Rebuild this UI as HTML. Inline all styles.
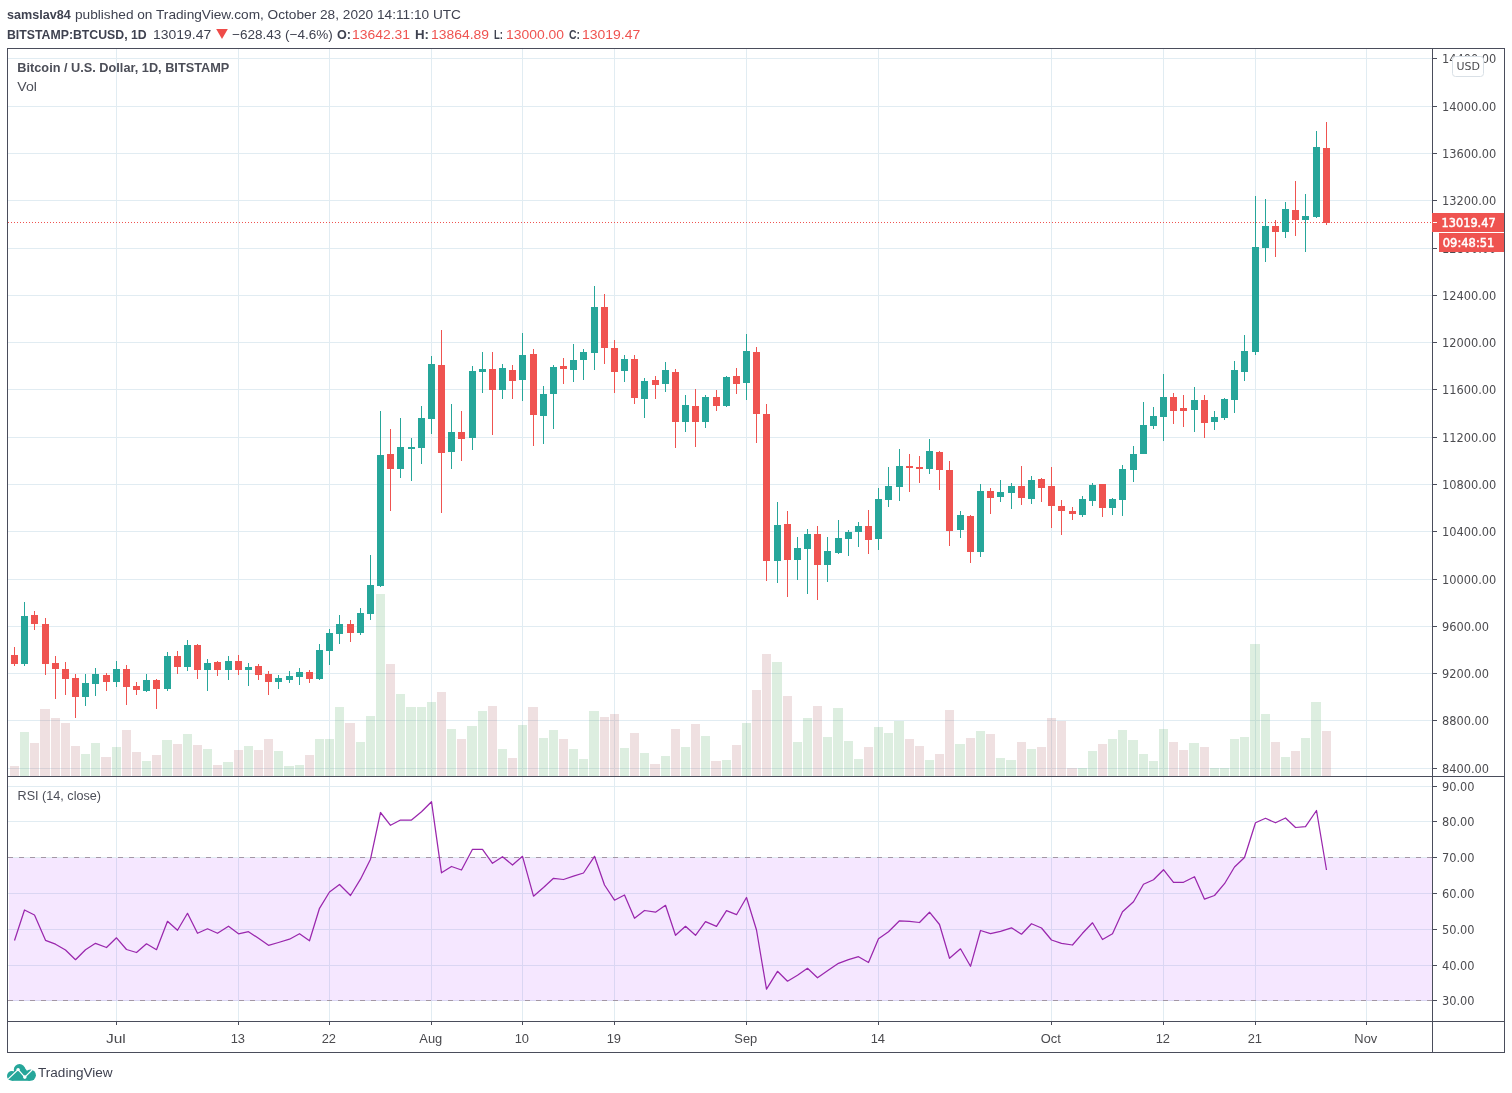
<!DOCTYPE html>
<html lang="en"><head><meta charset="utf-8"><title>BTCUSD chart</title>
<style>
html,body{margin:0;padding:0;background:#fff;}
body{width:1512px;height:1093px;position:relative;overflow:hidden;font-family:"Liberation Sans",sans-serif;}
#hdr{position:absolute;left:0;top:0;color:#3f4250;font-size:13px;line-height:16px;}
#hdr span{position:absolute;transform-origin:0 0;white-space:nowrap}
.b{font-weight:bold}
.r{color:#ef5350}
svg{position:absolute;left:0;top:0}
svg text{font-family:"DejaVu Sans","Liberation Sans",sans-serif;font-size:11.4px;fill:#4c4c50}
svg text.c{font-family:"Liberation Sans",sans-serif}
#foot{position:absolute;left:38.4px;top:1064.6px;font-size:12.5px;color:#3f4250;line-height:16px;transform-origin:0 0;transform:scaleX(1.085);white-space:nowrap}
</style></head><body>
<div id="hdr">
<span class="b" style="left:6.7px;top:7.3px;transform:scaleX(0.9684)">samslav84</span>
<span style="left:75.2px;top:7.3px;transform:scaleX(1.0507)">published on TradingView.com, October 28, 2020 14:11:10 UTC</span>
<span class="b" style="left:6.7px;top:26.5px;transform:scaleX(0.9451)">BITSTAMP:BTCUSD, 1D</span>
<span style="left:152.8px;top:26.5px;transform:scaleX(1.0731)">13019.47</span>
<span style="left:231.5px;top:26.5px;transform:scaleX(1.0397)">−628.43 (−4.6%)</span>
<span class="b" style="left:337.2px;top:26.5px;transform:scaleX(0.9686)">O:</span>
<span class="r" style="left:352.2px;top:26.5px;transform:scaleX(1.0694)">13642.31</span>
<span class="b" style="left:415.2px;top:26.5px;transform:scaleX(1.0205)">H:</span>
<span class="r" style="left:430.7px;top:26.5px;transform:scaleX(1.0694)">13864.89</span>
<span class="b" style="left:494.2px;top:26.5px;transform:scaleX(0.7328)">L:</span>
<span class="r" style="left:505.7px;top:26.5px;transform:scaleX(1.0694)">13000.00</span>
<span class="b" style="left:569.2px;top:26.5px;transform:scaleX(0.8018)">C:</span>
<span class="r" style="left:582.2px;top:26.5px;transform:scaleX(1.0750)">13019.47</span>
</div>
<svg width="12" height="10" style="left:215.8px;top:28.6px" viewBox="0 0 11.4 9.8"><polygon points="0,0 11.4,0 5.7,9.8" fill="#ef4b48"/></svg>
<svg width="1512" height="1093" viewBox="0 0 1512 1093">
<g stroke="#e1ecf2" stroke-width="1" shape-rendering="crispEdges">
<line x1="116.5" y1="49" x2="116.5" y2="776"/>
<line x1="116.5" y1="777" x2="116.5" y2="1021"/>
<line x1="238.5" y1="49" x2="238.5" y2="776"/>
<line x1="238.5" y1="777" x2="238.5" y2="1021"/>
<line x1="329.5" y1="49" x2="329.5" y2="776"/>
<line x1="329.5" y1="777" x2="329.5" y2="1021"/>
<line x1="431.5" y1="49" x2="431.5" y2="776"/>
<line x1="431.5" y1="777" x2="431.5" y2="1021"/>
<line x1="522.5" y1="49" x2="522.5" y2="776"/>
<line x1="522.5" y1="777" x2="522.5" y2="1021"/>
<line x1="614.5" y1="49" x2="614.5" y2="776"/>
<line x1="614.5" y1="777" x2="614.5" y2="1021"/>
<line x1="746.5" y1="49" x2="746.5" y2="776"/>
<line x1="746.5" y1="777" x2="746.5" y2="1021"/>
<line x1="878.5" y1="49" x2="878.5" y2="776"/>
<line x1="878.5" y1="777" x2="878.5" y2="1021"/>
<line x1="1051.5" y1="49" x2="1051.5" y2="776"/>
<line x1="1051.5" y1="777" x2="1051.5" y2="1021"/>
<line x1="1163.5" y1="49" x2="1163.5" y2="776"/>
<line x1="1163.5" y1="777" x2="1163.5" y2="1021"/>
<line x1="1255.5" y1="49" x2="1255.5" y2="776"/>
<line x1="1255.5" y1="777" x2="1255.5" y2="1021"/>
<line x1="1366.5" y1="49" x2="1366.5" y2="776"/>
<line x1="1366.5" y1="777" x2="1366.5" y2="1021"/>
<line x1="8" y1="768.5" x2="1432" y2="768.5"/>
<line x1="8" y1="720.5" x2="1432" y2="720.5"/>
<line x1="8" y1="673.5" x2="1432" y2="673.5"/>
<line x1="8" y1="626.5" x2="1432" y2="626.5"/>
<line x1="8" y1="579.5" x2="1432" y2="579.5"/>
<line x1="8" y1="531.5" x2="1432" y2="531.5"/>
<line x1="8" y1="484.5" x2="1432" y2="484.5"/>
<line x1="8" y1="437.5" x2="1432" y2="437.5"/>
<line x1="8" y1="389.5" x2="1432" y2="389.5"/>
<line x1="8" y1="342.5" x2="1432" y2="342.5"/>
<line x1="8" y1="295.5" x2="1432" y2="295.5"/>
<line x1="8" y1="248.5" x2="1432" y2="248.5"/>
<line x1="8" y1="200.5" x2="1432" y2="200.5"/>
<line x1="8" y1="153.5" x2="1432" y2="153.5"/>
<line x1="8" y1="106.5" x2="1432" y2="106.5"/>
<line x1="8" y1="58.5" x2="1432" y2="58.5"/>
<line x1="8" y1="1000.5" x2="1432" y2="1000.5"/>
<line x1="8" y1="965.5" x2="1432" y2="965.5"/>
<line x1="8" y1="929.5" x2="1432" y2="929.5"/>
<line x1="8" y1="893.5" x2="1432" y2="893.5"/>
<line x1="8" y1="857.5" x2="1432" y2="857.5"/>
<line x1="8" y1="821.5" x2="1432" y2="821.5"/>
<line x1="8" y1="786.5" x2="1432" y2="786.5"/>
</g>
<rect x="9" y="858" width="1423" height="143" fill="rgba(153,21,255,0.1)"/>
<g shape-rendering="crispEdges">
<rect x="10" y="766" width="9" height="10" fill="rgba(175,100,105,0.2)"/>
<rect x="20" y="732" width="9" height="44" fill="rgba(85,170,100,0.2)"/>
<rect x="30" y="743" width="9" height="33" fill="rgba(175,100,105,0.2)"/>
<rect x="40" y="709" width="10" height="67" fill="rgba(175,100,105,0.2)"/>
<rect x="51" y="718" width="9" height="58" fill="rgba(175,100,105,0.2)"/>
<rect x="61" y="723" width="9" height="53" fill="rgba(175,100,105,0.2)"/>
<rect x="71" y="746" width="9" height="30" fill="rgba(175,100,105,0.2)"/>
<rect x="81" y="754" width="9" height="22" fill="rgba(85,170,100,0.2)"/>
<rect x="91" y="743" width="9" height="33" fill="rgba(85,170,100,0.2)"/>
<rect x="101" y="757" width="10" height="19" fill="rgba(175,100,105,0.2)"/>
<rect x="112" y="747" width="9" height="29" fill="rgba(85,170,100,0.2)"/>
<rect x="122" y="730" width="9" height="46" fill="rgba(175,100,105,0.2)"/>
<rect x="132" y="752" width="9" height="24" fill="rgba(175,100,105,0.2)"/>
<rect x="142" y="761" width="9" height="15" fill="rgba(85,170,100,0.2)"/>
<rect x="152" y="755" width="9" height="21" fill="rgba(175,100,105,0.2)"/>
<rect x="162" y="740" width="10" height="36" fill="rgba(85,170,100,0.2)"/>
<rect x="173" y="744" width="9" height="32" fill="rgba(175,100,105,0.2)"/>
<rect x="183" y="734" width="9" height="42" fill="rgba(85,170,100,0.2)"/>
<rect x="193" y="745" width="9" height="31" fill="rgba(175,100,105,0.2)"/>
<rect x="203" y="749" width="9" height="27" fill="rgba(85,170,100,0.2)"/>
<rect x="213" y="765" width="9" height="11" fill="rgba(175,100,105,0.2)"/>
<rect x="223" y="762" width="10" height="14" fill="rgba(85,170,100,0.2)"/>
<rect x="234" y="750" width="9" height="26" fill="rgba(175,100,105,0.2)"/>
<rect x="244" y="746" width="9" height="30" fill="rgba(85,170,100,0.2)"/>
<rect x="254" y="750" width="9" height="26" fill="rgba(175,100,105,0.2)"/>
<rect x="264" y="739" width="9" height="37" fill="rgba(175,100,105,0.2)"/>
<rect x="274" y="751" width="9" height="25" fill="rgba(85,170,100,0.2)"/>
<rect x="284" y="766" width="10" height="10" fill="rgba(85,170,100,0.2)"/>
<rect x="295" y="765" width="9" height="11" fill="rgba(85,170,100,0.2)"/>
<rect x="305" y="755" width="9" height="21" fill="rgba(175,100,105,0.2)"/>
<rect x="315" y="739" width="9" height="37" fill="rgba(85,170,100,0.2)"/>
<rect x="325" y="739" width="9" height="37" fill="rgba(85,170,100,0.2)"/>
<rect x="335" y="707" width="9" height="69" fill="rgba(85,170,100,0.2)"/>
<rect x="345" y="723" width="10" height="53" fill="rgba(175,100,105,0.2)"/>
<rect x="356" y="742" width="9" height="34" fill="rgba(85,170,100,0.2)"/>
<rect x="366" y="716" width="9" height="60" fill="rgba(85,170,100,0.2)"/>
<rect x="376" y="594" width="9" height="182" fill="rgba(85,170,100,0.2)"/>
<rect x="386" y="664" width="9" height="112" fill="rgba(175,100,105,0.2)"/>
<rect x="396" y="694" width="9" height="82" fill="rgba(85,170,100,0.2)"/>
<rect x="406" y="707" width="10" height="69" fill="rgba(85,170,100,0.2)"/>
<rect x="417" y="707" width="9" height="69" fill="rgba(85,170,100,0.2)"/>
<rect x="427" y="702" width="9" height="74" fill="rgba(85,170,100,0.2)"/>
<rect x="437" y="692" width="9" height="84" fill="rgba(175,100,105,0.2)"/>
<rect x="447" y="729" width="9" height="47" fill="rgba(85,170,100,0.2)"/>
<rect x="457" y="739" width="9" height="37" fill="rgba(175,100,105,0.2)"/>
<rect x="467" y="726" width="10" height="50" fill="rgba(85,170,100,0.2)"/>
<rect x="478" y="711" width="9" height="65" fill="rgba(85,170,100,0.2)"/>
<rect x="488" y="706" width="9" height="70" fill="rgba(175,100,105,0.2)"/>
<rect x="498" y="749" width="9" height="27" fill="rgba(85,170,100,0.2)"/>
<rect x="508" y="758" width="9" height="18" fill="rgba(175,100,105,0.2)"/>
<rect x="518" y="725" width="9" height="51" fill="rgba(85,170,100,0.2)"/>
<rect x="528" y="707" width="10" height="69" fill="rgba(175,100,105,0.2)"/>
<rect x="539" y="738" width="9" height="38" fill="rgba(85,170,100,0.2)"/>
<rect x="549" y="730" width="9" height="46" fill="rgba(85,170,100,0.2)"/>
<rect x="559" y="739" width="9" height="37" fill="rgba(175,100,105,0.2)"/>
<rect x="569" y="749" width="9" height="27" fill="rgba(85,170,100,0.2)"/>
<rect x="579" y="759" width="9" height="17" fill="rgba(85,170,100,0.2)"/>
<rect x="589" y="711" width="10" height="65" fill="rgba(85,170,100,0.2)"/>
<rect x="600" y="717" width="9" height="59" fill="rgba(175,100,105,0.2)"/>
<rect x="610" y="714" width="9" height="62" fill="rgba(175,100,105,0.2)"/>
<rect x="620" y="748" width="9" height="28" fill="rgba(85,170,100,0.2)"/>
<rect x="630" y="733" width="9" height="43" fill="rgba(175,100,105,0.2)"/>
<rect x="640" y="753" width="9" height="23" fill="rgba(85,170,100,0.2)"/>
<rect x="650" y="764" width="10" height="12" fill="rgba(175,100,105,0.2)"/>
<rect x="661" y="756" width="9" height="20" fill="rgba(85,170,100,0.2)"/>
<rect x="671" y="729" width="9" height="47" fill="rgba(175,100,105,0.2)"/>
<rect x="681" y="747" width="9" height="29" fill="rgba(85,170,100,0.2)"/>
<rect x="691" y="724" width="9" height="52" fill="rgba(175,100,105,0.2)"/>
<rect x="701" y="736" width="9" height="40" fill="rgba(85,170,100,0.2)"/>
<rect x="711" y="761" width="10" height="15" fill="rgba(175,100,105,0.2)"/>
<rect x="722" y="760" width="9" height="16" fill="rgba(85,170,100,0.2)"/>
<rect x="732" y="745" width="9" height="31" fill="rgba(175,100,105,0.2)"/>
<rect x="742" y="723" width="9" height="53" fill="rgba(85,170,100,0.2)"/>
<rect x="752" y="690" width="9" height="86" fill="rgba(175,100,105,0.2)"/>
<rect x="762" y="654" width="9" height="122" fill="rgba(175,100,105,0.2)"/>
<rect x="772" y="662" width="10" height="114" fill="rgba(85,170,100,0.2)"/>
<rect x="783" y="696" width="9" height="80" fill="rgba(175,100,105,0.2)"/>
<rect x="793" y="742" width="9" height="34" fill="rgba(85,170,100,0.2)"/>
<rect x="803" y="718" width="9" height="58" fill="rgba(85,170,100,0.2)"/>
<rect x="813" y="706" width="9" height="70" fill="rgba(175,100,105,0.2)"/>
<rect x="823" y="737" width="9" height="39" fill="rgba(85,170,100,0.2)"/>
<rect x="833" y="708" width="10" height="68" fill="rgba(85,170,100,0.2)"/>
<rect x="844" y="741" width="9" height="35" fill="rgba(85,170,100,0.2)"/>
<rect x="854" y="759" width="9" height="17" fill="rgba(85,170,100,0.2)"/>
<rect x="864" y="747" width="9" height="29" fill="rgba(175,100,105,0.2)"/>
<rect x="874" y="727" width="9" height="49" fill="rgba(85,170,100,0.2)"/>
<rect x="884" y="733" width="9" height="43" fill="rgba(85,170,100,0.2)"/>
<rect x="894" y="721" width="10" height="55" fill="rgba(85,170,100,0.2)"/>
<rect x="905" y="739" width="9" height="37" fill="rgba(175,100,105,0.2)"/>
<rect x="915" y="746" width="9" height="30" fill="rgba(175,100,105,0.2)"/>
<rect x="925" y="760" width="9" height="16" fill="rgba(85,170,100,0.2)"/>
<rect x="935" y="754" width="9" height="22" fill="rgba(175,100,105,0.2)"/>
<rect x="945" y="710" width="9" height="66" fill="rgba(175,100,105,0.2)"/>
<rect x="955" y="744" width="10" height="32" fill="rgba(85,170,100,0.2)"/>
<rect x="966" y="738" width="9" height="38" fill="rgba(175,100,105,0.2)"/>
<rect x="976" y="731" width="9" height="45" fill="rgba(85,170,100,0.2)"/>
<rect x="986" y="734" width="9" height="42" fill="rgba(175,100,105,0.2)"/>
<rect x="996" y="758" width="9" height="18" fill="rgba(85,170,100,0.2)"/>
<rect x="1006" y="760" width="10" height="16" fill="rgba(85,170,100,0.2)"/>
<rect x="1017" y="742" width="9" height="34" fill="rgba(175,100,105,0.2)"/>
<rect x="1027" y="749" width="9" height="27" fill="rgba(85,170,100,0.2)"/>
<rect x="1037" y="747" width="9" height="29" fill="rgba(175,100,105,0.2)"/>
<rect x="1047" y="718" width="9" height="58" fill="rgba(175,100,105,0.2)"/>
<rect x="1057" y="721" width="9" height="55" fill="rgba(175,100,105,0.2)"/>
<rect x="1067" y="768" width="10" height="8" fill="rgba(175,100,105,0.2)"/>
<rect x="1078" y="768" width="9" height="8" fill="rgba(85,170,100,0.2)"/>
<rect x="1088" y="751" width="9" height="25" fill="rgba(85,170,100,0.2)"/>
<rect x="1098" y="744" width="9" height="32" fill="rgba(175,100,105,0.2)"/>
<rect x="1108" y="739" width="9" height="37" fill="rgba(85,170,100,0.2)"/>
<rect x="1118" y="730" width="9" height="46" fill="rgba(85,170,100,0.2)"/>
<rect x="1128" y="740" width="10" height="36" fill="rgba(85,170,100,0.2)"/>
<rect x="1139" y="754" width="9" height="22" fill="rgba(85,170,100,0.2)"/>
<rect x="1149" y="761" width="9" height="15" fill="rgba(85,170,100,0.2)"/>
<rect x="1159" y="729" width="9" height="47" fill="rgba(85,170,100,0.2)"/>
<rect x="1169" y="742" width="9" height="34" fill="rgba(175,100,105,0.2)"/>
<rect x="1179" y="750" width="9" height="26" fill="rgba(175,100,105,0.2)"/>
<rect x="1189" y="743" width="10" height="33" fill="rgba(85,170,100,0.2)"/>
<rect x="1200" y="747" width="9" height="29" fill="rgba(175,100,105,0.2)"/>
<rect x="1210" y="768" width="9" height="8" fill="rgba(85,170,100,0.2)"/>
<rect x="1220" y="768" width="9" height="8" fill="rgba(85,170,100,0.2)"/>
<rect x="1230" y="739" width="9" height="37" fill="rgba(85,170,100,0.2)"/>
<rect x="1240" y="737" width="9" height="39" fill="rgba(85,170,100,0.2)"/>
<rect x="1250" y="644" width="10" height="132" fill="rgba(85,170,100,0.2)"/>
<rect x="1261" y="714" width="9" height="62" fill="rgba(85,170,100,0.2)"/>
<rect x="1271" y="742" width="9" height="34" fill="rgba(175,100,105,0.2)"/>
<rect x="1281" y="757" width="9" height="19" fill="rgba(85,170,100,0.2)"/>
<rect x="1291" y="751" width="9" height="25" fill="rgba(175,100,105,0.2)"/>
<rect x="1301" y="738" width="9" height="38" fill="rgba(85,170,100,0.2)"/>
<rect x="1311" y="702" width="10" height="74" fill="rgba(85,170,100,0.2)"/>
<rect x="1322" y="731" width="9" height="45" fill="rgba(175,100,105,0.2)"/>
</g>
<line x1="8" y1="222.5" x2="1432" y2="222.5" stroke="#ef5350" stroke-width="1" stroke-dasharray="1 2" shape-rendering="crispEdges"/>
<g shape-rendering="crispEdges">
<rect x="14" y="647" width="1" height="19" fill="#ef5350"/>
<rect x="11" y="655" width="7" height="9" fill="#ef5350"/>
<rect x="24" y="602" width="1" height="64" fill="#26a69a"/>
<rect x="21" y="616" width="7" height="48" fill="#26a69a"/>
<rect x="34" y="611" width="1" height="19" fill="#ef5350"/>
<rect x="31" y="615" width="7" height="9" fill="#ef5350"/>
<rect x="45" y="618" width="1" height="57" fill="#ef5350"/>
<rect x="42" y="624" width="7" height="40" fill="#ef5350"/>
<rect x="55" y="656" width="1" height="43" fill="#ef5350"/>
<rect x="52" y="663" width="7" height="6" fill="#ef5350"/>
<rect x="65" y="662" width="1" height="33" fill="#ef5350"/>
<rect x="62" y="669" width="7" height="10" fill="#ef5350"/>
<rect x="75" y="674" width="1" height="44" fill="#ef5350"/>
<rect x="72" y="678" width="7" height="19" fill="#ef5350"/>
<rect x="85" y="674" width="1" height="32" fill="#26a69a"/>
<rect x="82" y="683" width="7" height="14" fill="#26a69a"/>
<rect x="95" y="668" width="1" height="28" fill="#26a69a"/>
<rect x="92" y="674" width="7" height="10" fill="#26a69a"/>
<rect x="106" y="673" width="1" height="18" fill="#ef5350"/>
<rect x="103" y="675" width="7" height="7" fill="#ef5350"/>
<rect x="116" y="661" width="1" height="26" fill="#26a69a"/>
<rect x="113" y="669" width="7" height="13" fill="#26a69a"/>
<rect x="126" y="665" width="1" height="40" fill="#ef5350"/>
<rect x="123" y="669" width="7" height="18" fill="#ef5350"/>
<rect x="136" y="682" width="1" height="13" fill="#ef5350"/>
<rect x="133" y="686" width="7" height="4" fill="#ef5350"/>
<rect x="146" y="674" width="1" height="18" fill="#26a69a"/>
<rect x="143" y="680" width="7" height="11" fill="#26a69a"/>
<rect x="156" y="679" width="1" height="30" fill="#ef5350"/>
<rect x="153" y="680" width="7" height="9" fill="#ef5350"/>
<rect x="167" y="652" width="1" height="39" fill="#26a69a"/>
<rect x="164" y="656" width="7" height="33" fill="#26a69a"/>
<rect x="177" y="651" width="1" height="23" fill="#ef5350"/>
<rect x="174" y="656" width="7" height="11" fill="#ef5350"/>
<rect x="187" y="640" width="1" height="31" fill="#26a69a"/>
<rect x="184" y="645" width="7" height="22" fill="#26a69a"/>
<rect x="197" y="644" width="1" height="35" fill="#ef5350"/>
<rect x="194" y="645" width="7" height="25" fill="#ef5350"/>
<rect x="207" y="659" width="1" height="32" fill="#26a69a"/>
<rect x="204" y="663" width="7" height="7" fill="#26a69a"/>
<rect x="217" y="661" width="1" height="15" fill="#ef5350"/>
<rect x="214" y="662" width="7" height="8" fill="#ef5350"/>
<rect x="228" y="656" width="1" height="24" fill="#26a69a"/>
<rect x="225" y="661" width="7" height="9" fill="#26a69a"/>
<rect x="238" y="655" width="1" height="20" fill="#ef5350"/>
<rect x="235" y="661" width="7" height="9" fill="#ef5350"/>
<rect x="248" y="663" width="1" height="23" fill="#26a69a"/>
<rect x="245" y="667" width="7" height="3" fill="#26a69a"/>
<rect x="258" y="664" width="1" height="16" fill="#ef5350"/>
<rect x="255" y="666" width="7" height="9" fill="#ef5350"/>
<rect x="268" y="671" width="1" height="24" fill="#ef5350"/>
<rect x="265" y="674" width="7" height="8" fill="#ef5350"/>
<rect x="278" y="675" width="1" height="14" fill="#26a69a"/>
<rect x="275" y="678" width="7" height="4" fill="#26a69a"/>
<rect x="289" y="671" width="1" height="12" fill="#26a69a"/>
<rect x="286" y="676" width="7" height="4" fill="#26a69a"/>
<rect x="299" y="668" width="1" height="17" fill="#26a69a"/>
<rect x="296" y="672" width="7" height="5" fill="#26a69a"/>
<rect x="309" y="670" width="1" height="13" fill="#ef5350"/>
<rect x="306" y="672" width="7" height="7" fill="#ef5350"/>
<rect x="319" y="644" width="1" height="36" fill="#26a69a"/>
<rect x="316" y="650" width="7" height="29" fill="#26a69a"/>
<rect x="329" y="629" width="1" height="36" fill="#26a69a"/>
<rect x="326" y="633" width="7" height="18" fill="#26a69a"/>
<rect x="339" y="615" width="1" height="29" fill="#26a69a"/>
<rect x="336" y="624" width="7" height="10" fill="#26a69a"/>
<rect x="350" y="620" width="1" height="22" fill="#ef5350"/>
<rect x="347" y="624" width="7" height="9" fill="#ef5350"/>
<rect x="360" y="608" width="1" height="27" fill="#26a69a"/>
<rect x="357" y="613" width="7" height="20" fill="#26a69a"/>
<rect x="370" y="555" width="1" height="65" fill="#26a69a"/>
<rect x="367" y="585" width="7" height="29" fill="#26a69a"/>
<rect x="380" y="411" width="1" height="176" fill="#26a69a"/>
<rect x="377" y="455" width="7" height="131" fill="#26a69a"/>
<rect x="390" y="429" width="1" height="82" fill="#ef5350"/>
<rect x="387" y="454" width="7" height="15" fill="#ef5350"/>
<rect x="400" y="418" width="1" height="60" fill="#26a69a"/>
<rect x="397" y="447" width="7" height="22" fill="#26a69a"/>
<rect x="411" y="438" width="1" height="43" fill="#26a69a"/>
<rect x="408" y="447" width="7" height="2" fill="#26a69a"/>
<rect x="421" y="406" width="1" height="58" fill="#26a69a"/>
<rect x="418" y="418" width="7" height="30" fill="#26a69a"/>
<rect x="431" y="356" width="1" height="78" fill="#26a69a"/>
<rect x="428" y="364" width="7" height="55" fill="#26a69a"/>
<rect x="441" y="330" width="1" height="183" fill="#ef5350"/>
<rect x="438" y="365" width="7" height="88" fill="#ef5350"/>
<rect x="451" y="404" width="1" height="65" fill="#26a69a"/>
<rect x="448" y="432" width="7" height="20" fill="#26a69a"/>
<rect x="461" y="411" width="1" height="50" fill="#ef5350"/>
<rect x="458" y="432" width="7" height="7" fill="#ef5350"/>
<rect x="472" y="366" width="1" height="84" fill="#26a69a"/>
<rect x="469" y="371" width="7" height="67" fill="#26a69a"/>
<rect x="482" y="352" width="1" height="41" fill="#26a69a"/>
<rect x="479" y="369" width="7" height="3" fill="#26a69a"/>
<rect x="492" y="352" width="1" height="83" fill="#ef5350"/>
<rect x="489" y="369" width="7" height="21" fill="#ef5350"/>
<rect x="502" y="364" width="1" height="35" fill="#26a69a"/>
<rect x="499" y="368" width="7" height="22" fill="#26a69a"/>
<rect x="512" y="365" width="1" height="34" fill="#ef5350"/>
<rect x="509" y="370" width="7" height="11" fill="#ef5350"/>
<rect x="522" y="333" width="1" height="68" fill="#26a69a"/>
<rect x="519" y="355" width="7" height="25" fill="#26a69a"/>
<rect x="533" y="349" width="1" height="97" fill="#ef5350"/>
<rect x="530" y="354" width="7" height="61" fill="#ef5350"/>
<rect x="543" y="386" width="1" height="58" fill="#26a69a"/>
<rect x="540" y="394" width="7" height="22" fill="#26a69a"/>
<rect x="553" y="365" width="1" height="64" fill="#26a69a"/>
<rect x="550" y="367" width="7" height="27" fill="#26a69a"/>
<rect x="563" y="358" width="1" height="26" fill="#ef5350"/>
<rect x="560" y="366" width="7" height="3" fill="#ef5350"/>
<rect x="573" y="344" width="1" height="38" fill="#26a69a"/>
<rect x="570" y="360" width="7" height="10" fill="#26a69a"/>
<rect x="583" y="349" width="1" height="31" fill="#26a69a"/>
<rect x="580" y="352" width="7" height="8" fill="#26a69a"/>
<rect x="594" y="286" width="1" height="84" fill="#26a69a"/>
<rect x="591" y="307" width="7" height="46" fill="#26a69a"/>
<rect x="604" y="294" width="1" height="70" fill="#ef5350"/>
<rect x="601" y="307" width="7" height="41" fill="#ef5350"/>
<rect x="614" y="340" width="1" height="53" fill="#ef5350"/>
<rect x="611" y="348" width="7" height="24" fill="#ef5350"/>
<rect x="624" y="355" width="1" height="27" fill="#26a69a"/>
<rect x="621" y="359" width="7" height="12" fill="#26a69a"/>
<rect x="634" y="355" width="1" height="49" fill="#ef5350"/>
<rect x="631" y="359" width="7" height="39" fill="#ef5350"/>
<rect x="644" y="378" width="1" height="40" fill="#26a69a"/>
<rect x="641" y="381" width="7" height="18" fill="#26a69a"/>
<rect x="655" y="376" width="1" height="23" fill="#ef5350"/>
<rect x="652" y="380" width="7" height="5" fill="#ef5350"/>
<rect x="665" y="362" width="1" height="30" fill="#26a69a"/>
<rect x="662" y="370" width="7" height="14" fill="#26a69a"/>
<rect x="675" y="369" width="1" height="79" fill="#ef5350"/>
<rect x="672" y="372" width="7" height="50" fill="#ef5350"/>
<rect x="685" y="395" width="1" height="37" fill="#26a69a"/>
<rect x="682" y="405" width="7" height="17" fill="#26a69a"/>
<rect x="695" y="389" width="1" height="58" fill="#ef5350"/>
<rect x="692" y="406" width="7" height="16" fill="#ef5350"/>
<rect x="705" y="395" width="1" height="33" fill="#26a69a"/>
<rect x="702" y="397" width="7" height="25" fill="#26a69a"/>
<rect x="716" y="390" width="1" height="21" fill="#ef5350"/>
<rect x="713" y="397" width="7" height="9" fill="#ef5350"/>
<rect x="726" y="376" width="1" height="31" fill="#26a69a"/>
<rect x="723" y="377" width="7" height="29" fill="#26a69a"/>
<rect x="736" y="368" width="1" height="26" fill="#ef5350"/>
<rect x="733" y="376" width="7" height="8" fill="#ef5350"/>
<rect x="746" y="334" width="1" height="66" fill="#26a69a"/>
<rect x="743" y="351" width="7" height="32" fill="#26a69a"/>
<rect x="756" y="347" width="1" height="96" fill="#ef5350"/>
<rect x="753" y="352" width="7" height="62" fill="#ef5350"/>
<rect x="766" y="404" width="1" height="177" fill="#ef5350"/>
<rect x="763" y="414" width="7" height="147" fill="#ef5350"/>
<rect x="777" y="502" width="1" height="81" fill="#26a69a"/>
<rect x="774" y="525" width="7" height="36" fill="#26a69a"/>
<rect x="787" y="511" width="1" height="86" fill="#ef5350"/>
<rect x="784" y="524" width="7" height="36" fill="#ef5350"/>
<rect x="797" y="537" width="1" height="43" fill="#26a69a"/>
<rect x="794" y="548" width="7" height="12" fill="#26a69a"/>
<rect x="807" y="529" width="1" height="65" fill="#26a69a"/>
<rect x="804" y="534" width="7" height="15" fill="#26a69a"/>
<rect x="817" y="526" width="1" height="74" fill="#ef5350"/>
<rect x="814" y="534" width="7" height="31" fill="#ef5350"/>
<rect x="827" y="537" width="1" height="45" fill="#26a69a"/>
<rect x="824" y="551" width="7" height="14" fill="#26a69a"/>
<rect x="838" y="520" width="1" height="34" fill="#26a69a"/>
<rect x="835" y="538" width="7" height="15" fill="#26a69a"/>
<rect x="848" y="530" width="1" height="26" fill="#26a69a"/>
<rect x="845" y="532" width="7" height="7" fill="#26a69a"/>
<rect x="858" y="522" width="1" height="25" fill="#26a69a"/>
<rect x="855" y="526" width="7" height="6" fill="#26a69a"/>
<rect x="868" y="510" width="1" height="44" fill="#ef5350"/>
<rect x="865" y="526" width="7" height="14" fill="#ef5350"/>
<rect x="878" y="488" width="1" height="62" fill="#26a69a"/>
<rect x="875" y="499" width="7" height="40" fill="#26a69a"/>
<rect x="888" y="467" width="1" height="40" fill="#26a69a"/>
<rect x="885" y="486" width="7" height="14" fill="#26a69a"/>
<rect x="899" y="449" width="1" height="52" fill="#26a69a"/>
<rect x="896" y="466" width="7" height="21" fill="#26a69a"/>
<rect x="909" y="454" width="1" height="38" fill="#ef5350"/>
<rect x="906" y="466" width="7" height="2" fill="#ef5350"/>
<rect x="919" y="456" width="1" height="27" fill="#ef5350"/>
<rect x="916" y="467" width="7" height="2" fill="#ef5350"/>
<rect x="929" y="439" width="1" height="35" fill="#26a69a"/>
<rect x="926" y="451" width="7" height="18" fill="#26a69a"/>
<rect x="939" y="451" width="1" height="39" fill="#ef5350"/>
<rect x="936" y="452" width="7" height="18" fill="#ef5350"/>
<rect x="949" y="461" width="1" height="85" fill="#ef5350"/>
<rect x="946" y="470" width="7" height="61" fill="#ef5350"/>
<rect x="960" y="511" width="1" height="27" fill="#26a69a"/>
<rect x="957" y="515" width="7" height="15" fill="#26a69a"/>
<rect x="970" y="515" width="1" height="48" fill="#ef5350"/>
<rect x="967" y="516" width="7" height="36" fill="#ef5350"/>
<rect x="980" y="484" width="1" height="73" fill="#26a69a"/>
<rect x="977" y="491" width="7" height="61" fill="#26a69a"/>
<rect x="990" y="488" width="1" height="26" fill="#ef5350"/>
<rect x="987" y="491" width="7" height="7" fill="#ef5350"/>
<rect x="1000" y="480" width="1" height="22" fill="#26a69a"/>
<rect x="997" y="492" width="7" height="5" fill="#26a69a"/>
<rect x="1011" y="483" width="1" height="26" fill="#26a69a"/>
<rect x="1008" y="486" width="7" height="7" fill="#26a69a"/>
<rect x="1021" y="466" width="1" height="39" fill="#ef5350"/>
<rect x="1018" y="486" width="7" height="12" fill="#ef5350"/>
<rect x="1031" y="476" width="1" height="28" fill="#26a69a"/>
<rect x="1028" y="480" width="7" height="19" fill="#26a69a"/>
<rect x="1041" y="478" width="1" height="24" fill="#ef5350"/>
<rect x="1038" y="479" width="7" height="9" fill="#ef5350"/>
<rect x="1051" y="467" width="1" height="61" fill="#ef5350"/>
<rect x="1048" y="486" width="7" height="20" fill="#ef5350"/>
<rect x="1061" y="500" width="1" height="35" fill="#ef5350"/>
<rect x="1058" y="506" width="7" height="5" fill="#ef5350"/>
<rect x="1072" y="507" width="1" height="13" fill="#ef5350"/>
<rect x="1069" y="511" width="7" height="3" fill="#ef5350"/>
<rect x="1082" y="496" width="1" height="21" fill="#26a69a"/>
<rect x="1079" y="499" width="7" height="16" fill="#26a69a"/>
<rect x="1092" y="483" width="1" height="23" fill="#26a69a"/>
<rect x="1089" y="485" width="7" height="16" fill="#26a69a"/>
<rect x="1102" y="484" width="1" height="33" fill="#ef5350"/>
<rect x="1099" y="484" width="7" height="24" fill="#ef5350"/>
<rect x="1112" y="498" width="1" height="17" fill="#26a69a"/>
<rect x="1109" y="499" width="7" height="9" fill="#26a69a"/>
<rect x="1122" y="465" width="1" height="51" fill="#26a69a"/>
<rect x="1119" y="469" width="7" height="31" fill="#26a69a"/>
<rect x="1133" y="446" width="1" height="36" fill="#26a69a"/>
<rect x="1130" y="454" width="7" height="16" fill="#26a69a"/>
<rect x="1143" y="402" width="1" height="52" fill="#26a69a"/>
<rect x="1140" y="425" width="7" height="29" fill="#26a69a"/>
<rect x="1153" y="407" width="1" height="22" fill="#26a69a"/>
<rect x="1150" y="416" width="7" height="10" fill="#26a69a"/>
<rect x="1163" y="374" width="1" height="67" fill="#26a69a"/>
<rect x="1160" y="397" width="7" height="20" fill="#26a69a"/>
<rect x="1173" y="393" width="1" height="31" fill="#ef5350"/>
<rect x="1170" y="397" width="7" height="14" fill="#ef5350"/>
<rect x="1183" y="395" width="1" height="32" fill="#ef5350"/>
<rect x="1180" y="408" width="7" height="3" fill="#ef5350"/>
<rect x="1194" y="387" width="1" height="45" fill="#26a69a"/>
<rect x="1191" y="400" width="7" height="10" fill="#26a69a"/>
<rect x="1204" y="395" width="1" height="43" fill="#ef5350"/>
<rect x="1201" y="400" width="7" height="23" fill="#ef5350"/>
<rect x="1214" y="411" width="1" height="19" fill="#26a69a"/>
<rect x="1211" y="417" width="7" height="5" fill="#26a69a"/>
<rect x="1224" y="398" width="1" height="22" fill="#26a69a"/>
<rect x="1221" y="399" width="7" height="19" fill="#26a69a"/>
<rect x="1234" y="361" width="1" height="52" fill="#26a69a"/>
<rect x="1231" y="370" width="7" height="30" fill="#26a69a"/>
<rect x="1244" y="335" width="1" height="46" fill="#26a69a"/>
<rect x="1241" y="351" width="7" height="21" fill="#26a69a"/>
<rect x="1255" y="196" width="1" height="159" fill="#26a69a"/>
<rect x="1252" y="247" width="7" height="105" fill="#26a69a"/>
<rect x="1265" y="199" width="1" height="63" fill="#26a69a"/>
<rect x="1262" y="226" width="7" height="22" fill="#26a69a"/>
<rect x="1275" y="220" width="1" height="37" fill="#ef5350"/>
<rect x="1272" y="226" width="7" height="6" fill="#ef5350"/>
<rect x="1285" y="202" width="1" height="36" fill="#26a69a"/>
<rect x="1282" y="209" width="7" height="23" fill="#26a69a"/>
<rect x="1295" y="181" width="1" height="55" fill="#ef5350"/>
<rect x="1292" y="210" width="7" height="10" fill="#ef5350"/>
<rect x="1305" y="194" width="1" height="58" fill="#26a69a"/>
<rect x="1302" y="216" width="7" height="4" fill="#26a69a"/>
<rect x="1316" y="131" width="1" height="87" fill="#26a69a"/>
<rect x="1313" y="147" width="7" height="70" fill="#26a69a"/>
<rect x="1326" y="122" width="1" height="103" fill="#ef5350"/>
<rect x="1323" y="148" width="7" height="75" fill="#ef5350"/>
</g>
<line x1="8" y1="857.5" x2="1432" y2="857.5" stroke="#a397a5" stroke-width="1" stroke-dasharray="5 6" shape-rendering="crispEdges"/>
<line x1="8" y1="1000.5" x2="1432" y2="1000.5" stroke="#a397a5" stroke-width="1" stroke-dasharray="5 6" shape-rendering="crispEdges"/>
<polyline points="14.5,940.5 24.5,910.0 34.5,915.0 45.5,940.3 55.5,944.2 65.5,950.0 75.5,959.7 85.5,949.7 95.5,943.3 106.5,947.5 116.5,937.8 126.5,949.5 136.5,952.5 146.5,943.8 156.5,949.7 167.5,921.3 177.5,930.3 187.5,913.3 197.5,933.3 207.5,928.8 217.5,933.3 228.5,926.2 238.5,933.8 248.5,931.7 258.5,938.3 268.5,945.3 278.5,942.5 289.5,939.2 299.5,933.7 309.5,940.8 319.5,908.3 329.5,892.0 339.5,884.5 350.5,895.5 360.5,879.2 370.5,859.2 380.5,812.5 390.5,825.3 400.5,820.0 411.5,820.0 421.5,811.7 431.5,801.7 441.5,872.8 451.5,866.5 461.5,870.0 472.5,849.3 482.5,849.3 492.5,863.3 502.5,856.7 512.5,865.0 522.5,856.3 533.5,896.2 543.5,887.5 553.5,878.3 563.5,879.5 573.5,876.2 583.5,873.0 594.5,856.3 604.5,885.0 614.5,900.2 624.5,895.0 634.5,918.3 644.5,910.5 655.5,912.2 665.5,905.3 675.5,935.3 685.5,926.3 695.5,935.3 705.5,921.7 716.5,926.3 726.5,910.7 736.5,914.7 746.5,897.5 756.5,930.0 766.5,989.2 777.5,971.3 787.5,981.2 797.5,975.3 807.5,968.3 817.5,977.8 827.5,970.8 838.5,963.3 848.5,959.7 858.5,956.7 868.5,962.5 878.5,938.7 888.5,931.7 899.5,920.8 909.5,921.3 919.5,922.5 929.5,912.2 939.5,924.5 949.5,958.3 960.5,948.8 970.5,966.3 980.5,930.5 990.5,933.7 1000.5,931.3 1011.5,927.8 1021.5,934.2 1031.5,923.7 1041.5,928.0 1051.5,940.0 1061.5,943.3 1072.5,945.0 1082.5,933.3 1092.5,922.8 1102.5,939.5 1112.5,933.7 1122.5,911.7 1133.5,901.7 1143.5,884.2 1153.5,879.7 1163.5,869.7 1173.5,882.3 1183.5,882.3 1194.5,876.7 1204.5,899.2 1214.5,895.5 1224.5,883.7 1234.5,867.0 1244.5,857.5 1255.5,822.8 1265.5,818.3 1275.5,822.8 1285.5,818.0 1295.5,827.5 1305.5,826.7 1316.5,810.5 1326.5,870.0" fill="none" stroke="#9a27ad" stroke-width="1.25" stroke-linejoin="round"/>
<g stroke="#4a4d5b" stroke-width="1" shape-rendering="crispEdges" fill="none">
<rect x="7.5" y="48.5" width="1497" height="1004"/>
<line x1="1432.5" y1="48" x2="1432.5" y2="1052"/>
<line x1="7" y1="776.5" x2="1504" y2="776.5"/>
<line x1="7" y1="1021.5" x2="1504" y2="1021.5"/>
<line x1="1433" y1="768.5" x2="1437" y2="768.5"/>
<line x1="1433" y1="720.5" x2="1437" y2="720.5"/>
<line x1="1433" y1="673.5" x2="1437" y2="673.5"/>
<line x1="1433" y1="626.5" x2="1437" y2="626.5"/>
<line x1="1433" y1="579.5" x2="1437" y2="579.5"/>
<line x1="1433" y1="531.5" x2="1437" y2="531.5"/>
<line x1="1433" y1="484.5" x2="1437" y2="484.5"/>
<line x1="1433" y1="437.5" x2="1437" y2="437.5"/>
<line x1="1433" y1="389.5" x2="1437" y2="389.5"/>
<line x1="1433" y1="342.5" x2="1437" y2="342.5"/>
<line x1="1433" y1="295.5" x2="1437" y2="295.5"/>
<line x1="1433" y1="248.5" x2="1437" y2="248.5"/>
<line x1="1433" y1="200.5" x2="1437" y2="200.5"/>
<line x1="1433" y1="153.5" x2="1437" y2="153.5"/>
<line x1="1433" y1="106.5" x2="1437" y2="106.5"/>
<line x1="1433" y1="58.5" x2="1437" y2="58.5"/>
<line x1="1433" y1="1000.5" x2="1437" y2="1000.5"/>
<line x1="1433" y1="965.5" x2="1437" y2="965.5"/>
<line x1="1433" y1="929.5" x2="1437" y2="929.5"/>
<line x1="1433" y1="893.5" x2="1437" y2="893.5"/>
<line x1="1433" y1="857.5" x2="1437" y2="857.5"/>
<line x1="1433" y1="821.5" x2="1437" y2="821.5"/>
<line x1="1433" y1="786.5" x2="1437" y2="786.5"/>
<line x1="116.5" y1="1022" x2="116.5" y2="1025"/>
<line x1="238.5" y1="1022" x2="238.5" y2="1025"/>
<line x1="329.5" y1="1022" x2="329.5" y2="1025"/>
<line x1="431.5" y1="1022" x2="431.5" y2="1025"/>
<line x1="522.5" y1="1022" x2="522.5" y2="1025"/>
<line x1="614.5" y1="1022" x2="614.5" y2="1025"/>
<line x1="746.5" y1="1022" x2="746.5" y2="1025"/>
<line x1="878.5" y1="1022" x2="878.5" y2="1025"/>
<line x1="1051.5" y1="1022" x2="1051.5" y2="1025"/>
<line x1="1163.5" y1="1022" x2="1163.5" y2="1025"/>
<line x1="1255.5" y1="1022" x2="1255.5" y2="1025"/>
<line x1="1366.5" y1="1022" x2="1366.5" y2="1025"/>
</g>
<g>
<text x="1442" y="772.8">8400.00</text>
<text x="1442" y="724.8">8800.00</text>
<text x="1442" y="677.8">9200.00</text>
<text x="1442" y="630.8">9600.00</text>
<text x="1442" y="583.8">10000.00</text>
<text x="1442" y="535.8">10400.00</text>
<text x="1442" y="488.8">10800.00</text>
<text x="1442" y="441.8">11200.00</text>
<text x="1442" y="393.8">11600.00</text>
<text x="1442" y="346.8">12000.00</text>
<text x="1442" y="299.8">12400.00</text>
<text x="1442" y="252.8">12800.00</text>
<text x="1442" y="204.8">13200.00</text>
<text x="1442" y="157.8">13600.00</text>
<text x="1442" y="110.8">14000.00</text>
<text x="1442" y="62.8">14400.00</text>
<text x="1442" y="1004.8">30.00</text>
<text x="1442" y="969.8">40.00</text>
<text x="1442" y="933.8">50.00</text>
<text x="1442" y="897.8">60.00</text>
<text x="1442" y="861.8">70.00</text>
<text x="1442" y="825.8">80.00</text>
<text x="1442" y="790.8">90.00</text>
<text class="c" x="115.8" y="1042.8" text-anchor="middle" textLength="19.8" lengthAdjust="spacingAndGlyphs" style="font-size:12.9px;fill:#4a4a4e">Jul</text>
<text class="c" x="237.8" y="1042.8" text-anchor="middle" style="font-size:12.9px;fill:#4a4a4e">13</text>
<text class="c" x="328.8" y="1042.8" text-anchor="middle" style="font-size:12.9px;fill:#4a4a4e">22</text>
<text class="c" x="430.8" y="1042.8" text-anchor="middle" style="font-size:12.9px;fill:#4a4a4e">Aug</text>
<text class="c" x="521.8" y="1042.8" text-anchor="middle" style="font-size:12.9px;fill:#4a4a4e">10</text>
<text class="c" x="613.8" y="1042.8" text-anchor="middle" style="font-size:12.9px;fill:#4a4a4e">19</text>
<text class="c" x="745.8" y="1042.8" text-anchor="middle" style="font-size:12.9px;fill:#4a4a4e">Sep</text>
<text class="c" x="877.8" y="1042.8" text-anchor="middle" style="font-size:12.9px;fill:#4a4a4e">14</text>
<text class="c" x="1050.8" y="1042.8" text-anchor="middle" style="font-size:12.9px;fill:#4a4a4e">Oct</text>
<text class="c" x="1162.8" y="1042.8" text-anchor="middle" style="font-size:12.9px;fill:#4a4a4e">12</text>
<text class="c" x="1254.8" y="1042.8" text-anchor="middle" style="font-size:12.9px;fill:#4a4a4e">21</text>
<text class="c" x="1365.8" y="1042.8" text-anchor="middle" style="font-size:12.9px;fill:#4a4a4e">Nov</text>
</g>
<rect x="1452.5" y="56.5" width="31" height="20" rx="3" ry="3" fill="#fff" stroke="#d9e0e6"/>
<text x="1468.2" y="70.2" text-anchor="middle" style="font-size:11px">USD</text>
<rect x="1432" y="213" width="72" height="19" fill="#ef5350"/>
<rect x="1439" y="233" width="65" height="19" fill="#ef5350"/>
<line x1="1433" y1="222.5" x2="1437" y2="222.5" stroke="#fff" stroke-width="1" shape-rendering="crispEdges"/>
<text x="1441.6" y="226.9" style="fill:#fff;stroke:#fff;stroke-width:0.5px;font-size:11.6px" textLength="54" lengthAdjust="spacingAndGlyphs">13019.47</text>
<text x="1442.8" y="246.9" style="fill:#fff;stroke:#fff;stroke-width:0.5px;font-size:11.6px" textLength="51.6" lengthAdjust="spacingAndGlyphs">09:48:51</text>
<text class="c" x="17.3" y="72" style="font-size:12.6px;font-weight:bold;fill:#4c4e58" textLength="212" lengthAdjust="spacingAndGlyphs">Bitcoin / U.S. Dollar, 1D, BITSTAMP</text>
<text class="c" x="17.3" y="90.5" style="font-size:12.4px;fill:#4c4e58" textLength="19.6" lengthAdjust="spacingAndGlyphs">Vol</text>
<text class="c" x="17.6" y="799.8" style="font-size:12px;fill:#4c4e58" textLength="83.4" lengthAdjust="spacingAndGlyphs">RSI (14, close)</text>
<g transform="translate(7,1064)"><g fill="#26a69a"><circle cx="4.9" cy="11.9" r="4.9"/><circle cx="12.5" cy="5.7" r="5.7"/><circle cx="23.3" cy="11.2" r="5.6"/><rect x="4.9" y="8" width="18.4" height="8.8"/><polygon points="7,7 12,3 17.5,3.5 20.5,7.5 24,8 24,12 7,12"/></g><polyline points="1.3,14.9 11.1,5.6 17.8,13.1 25.3,5.8" fill="none" stroke="#fff" stroke-width="1.3"/><circle cx="11.1" cy="5.6" r="1.7" fill="#fff"/><circle cx="17.8" cy="13.1" r="1.8" fill="#fff"/></g>
</svg>
<div id="foot">TradingView</div>
</body></html>
